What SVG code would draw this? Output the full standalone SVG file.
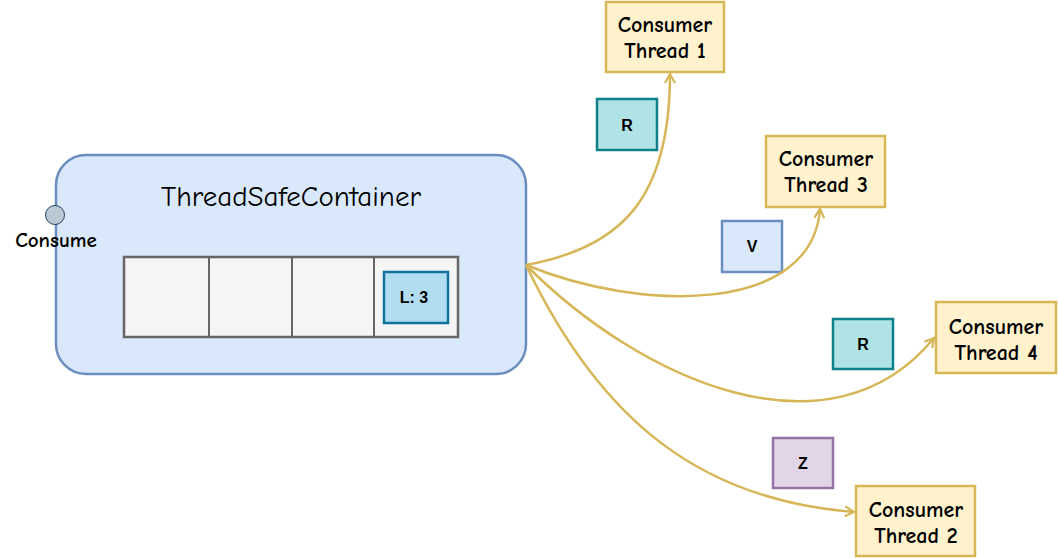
<svg xmlns="http://www.w3.org/2000/svg" width="1058" height="558" viewBox="0 0 1058 558">
<style>
.hand{font-family:"Comic Neue","Comic Sans MS","DejaVu Sans",sans-serif;fill:#000}
.lbl{font-family:"Liberation Sans",Arial,sans-serif;font-weight:bold;font-size:16px;fill:#000}
.cons{fill:#fff2cc;stroke:#d6b656;stroke-width:2.5}
.ct{font-size:22px;font-weight:bold}
.conn{fill:none;stroke:#d6b656;stroke-width:2.5}
</style>
<defs>
<marker id="arr" viewBox="0 0 12 12" refX="10" refY="6" markerWidth="12" markerHeight="12" markerUnits="userSpaceOnUse" orient="auto">
<path d="M1,1 L10,6 L1,11" fill="none" stroke="#d6b656" stroke-width="2.2"/>
</marker>
</defs>
<rect width="1058" height="558" fill="#fff"/>
<g id="container">
<rect x="56" y="155" width="470" height="219" rx="30" fill="#dae8fc" stroke="#6c8ebf" stroke-width="2.5"/>
<text class="hand" x="291" y="206" font-size="29" text-anchor="middle">ThreadSafeContainer</text>
</g>
<g id="queue">
<rect x="124" y="257" width="334" height="80" fill="#f5f5f5" stroke="#666" stroke-width="2.5"/>
<line x1="209" y1="257" x2="209" y2="337" stroke="#666" stroke-width="2"/>
<line x1="292" y1="257" x2="292" y2="337" stroke="#666" stroke-width="2"/>
<line x1="374" y1="257" x2="374" y2="337" stroke="#666" stroke-width="2"/>
</g>
<g id="item-l3">
<rect x="384" y="272" width="64" height="51" fill="#b1ddf0" stroke="#10739e" stroke-width="2.5"/>
<text class="lbl" x="414" y="303" text-anchor="middle">L: 3</text>
</g>
<g id="consume-port">
<circle cx="55" cy="215" r="9.5" fill="#bac8d3" stroke="#23445d" stroke-width="1"/>
<text class="hand" x="56" y="247" font-size="21" font-weight="bold" text-anchor="middle">Consume</text>
</g>
<g id="thread1">
<rect class="cons" x="606" y="2" width="118" height="70"/>
<text class="hand ct" x="665" y="32" text-anchor="middle">Consumer</text>
<text class="hand ct" x="665" y="58" text-anchor="middle">Thread 1</text>
</g>
<g id="thread3">
<rect class="cons" x="766" y="136" width="119" height="71"/>
<text class="hand ct" x="826" y="166" text-anchor="middle">Consumer</text>
<text class="hand ct" x="826" y="192" text-anchor="middle">Thread 3</text>
</g>
<g id="thread4">
<rect class="cons" x="936" y="302" width="120" height="71"/>
<text class="hand ct" x="996" y="334" text-anchor="middle">Consumer</text>
<text class="hand ct" x="996" y="360" text-anchor="middle">Thread 4</text>
</g>
<g id="thread2">
<rect class="cons" x="856" y="486" width="119" height="70"/>
<text class="hand ct" x="916" y="517" text-anchor="middle">Consumer</text>
<text class="hand ct" x="916" y="543" text-anchor="middle">Thread 2</text>
</g>
<g id="msg-r1">
<rect x="597" y="99" width="60" height="51" fill="#b0e3e6" stroke="#0e8088" stroke-width="2.5"/>
<text class="lbl" x="627" y="131" text-anchor="middle">R</text>
</g>
<g id="msg-v">
<rect x="722" y="221" width="60" height="51" fill="#dae8fc" stroke="#6c8ebf" stroke-width="2.5"/>
<text class="lbl" x="752" y="252" text-anchor="middle">V</text>
</g>
<g id="msg-r2">
<rect x="833" y="319" width="60" height="50" fill="#b0e3e6" stroke="#0e8088" stroke-width="2.5"/>
<text class="lbl" x="863" y="350" text-anchor="middle">R</text>
</g>
<g id="msg-z">
<rect x="773" y="438" width="60" height="50" fill="#e1d5e7" stroke="#9673a6" stroke-width="2.5"/>
<text class="lbl" x="803" y="469" text-anchor="middle">Z</text>
</g>
<g id="connectors">
<path class="conn" marker-end="url(#arr)" d="M526 265 C620 248 670 200 670 74"/>
<path class="conn" marker-end="url(#arr)" d="M526 265 C640 312 812 315 820 209"/>
<path class="conn" marker-end="url(#arr)" d="M526 265 C640 380 830 465 934 338"/>
<path class="conn" marker-end="url(#arr)" d="M526 265 C600 420 700 500 854 512"/>
</g>
</svg>
